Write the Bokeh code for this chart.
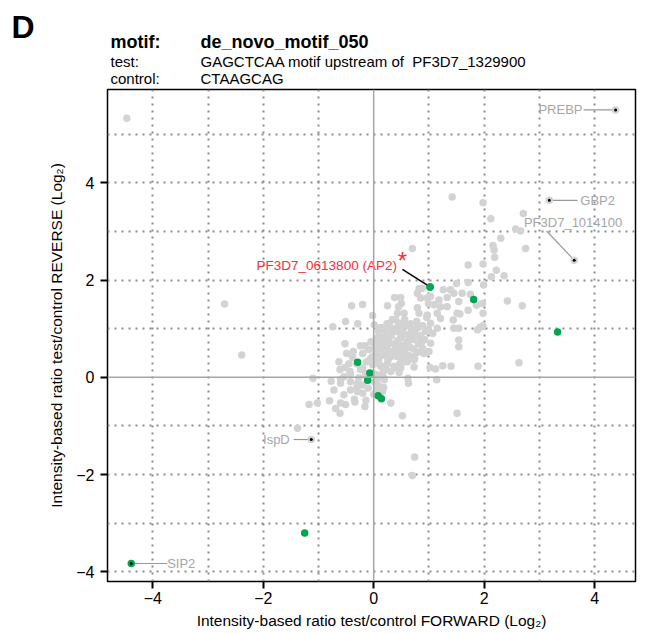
from bokeh.plotting import figure
from bokeh.layouts import column
from bokeh.models import Range1d, FixedTicker, Span, ColumnDataSource
from bokeh.core.properties import value
from bokeh.embed import file_html
from bokeh.resources import INLINE

FONT = "Liberation Sans"

# ---- header texts ----
panel_letter = "D"
head_keys = ["motif:", "test:", "control:"]
head_vals = ["de_novo_motif_050", "GAGCTCAA motif upstream of\u00a0 PF3D7_1329900", "CTAAGCAG"]

# ---- data (log2 ratios FORWARD, REVERSE) ----
grey_fwd_a = [-4.47, -2.70, -2.39, -1.10, -1.17, -1.02, -1.38, -0.40, -0.20, -0.74, -0.51, -0.29, -0.52, -0.37, -0.61, -0.77, -0.80, -0.69, -0.61, -0.72]
grey_rev_a = [5.33, 1.51, 0.46, -0.02, -0.56, -0.53, -1.05, 1.47, 1.50, 1.04, 1.15, 1.10, 0.69, 0.53, 0.16, -0.08, -0.48, -0.64, -0.74, -0.26]

grey_fwd_b = [-0.60, -0.51, -0.34, -0.16, -0.14, 0.31, 0.52, 1.51, 0.74, 0.70, 0.63, 0.62, 0.19, 0.18, 0.08, 0.04, 0.46, -0.20, -0.29, -0.42, -0.54, -0.42, -0.29, -0.20, -0.60, -0.54, 0.16]
grey_rev_b = [-0.53, -0.56, -0.51, -0.60, -0.47, -0.53, -0.79, -0.74, -1.64, -2.02, -0.12, -0.02, -0.02, -0.21, -0.16, 0.06, 0.10, -0.33, -0.29, -0.26, -0.36, -0.09, -0.12, -0.16, -0.12, 0.01, -0.29]

grey_fwd_c = [2.42, 2.69, 2.63, 1.89, 1.54, 1.54, 1.40, 1.25, 1.12, 1.02, 0.73, 1.88, 1.93, 1.45, 1.54, 1.44, 1.56, 1.71, 1.98, 1.97,
              1.86, 1.75, 1.99, 1.71, 1.50, 1.39, 1.26, 1.60, 1.54, 1.33, 1.18, 1.21, 1.09, 1.03, 0.88, 0.79, 0.85, 0.49, 0.38, 0.25,
              0.50, 0.55, 0.43, 0.40, 0.55, 0.79, 0.82, 0.97, 1.15, 1.21, 1.03, 0.94, 1.15, 0.85, 1.03, 1.00, 0.85, 0.73, 0.67, 0.55,
              0.37, 0.25, 0.19, -0.02, 0.01, 0.07, 0.19]
grey_rev_c = [1.57, 1.47, 0.30, 0.23, 0.77, 0.63, 0.23, 0.24, 0.17, 0.20, 0.21, 0.98, 1.03, 1.01, 1.01, 1.18, 1.30, 1.38, 1.32, 1.52,
              1.48, 1.71, 1.90, 1.95, 1.93, 1.80, 1.80, 1.73, 1.56, 1.64, 1.59, 1.45, 1.49, 1.66, 1.83, 1.73, 1.63, 1.64, 1.64, 1.47,
              1.52, 1.32, 1.32, 1.18, 1.15, 1.43, 1.32, 1.28, 1.32, 1.21, 1.11, 0.94, 1.01, 0.80, 0.70, 0.53, 0.53, 0.36, 0.43, 0.32,
              0.22, 0.29, 0.15, 0.08, -0.09, -0.23, -0.05]

grey_fwd_d = [1.42, 1.98, 2.12, 2.71, 2.57, 2.66, 2.30, 2.16, 2.18, 2.75, 2.19, 0.70, 1.71, 2.22, 2.36, 2.13, 1.98, 0.82, 1.45, 0.97]
grey_rev_d = [3.71, 3.59, 3.26, 3.37, 3.05, 3.01, 2.86, 2.71, 2.62, 2.65, 2.47, 2.65, 2.31, 2.20, 2.09, 2.07, 2.33, 1.82, 1.73, 1.63]

grey_fwd_e = [-0.24, -0.02, 0.45, 0.28, 0.11, 0.01, 0.99, 1.33, 1.51, 1.98, 0.91, 0.61, 0.49, 0.22, 0.11, 0.31, -0.05, -0.20, -0.43, -0.60, 0.07, 1.14]
grey_rev_e = [0.65, 1.27, 1.45, 1.10, 1.02, 1.08, 1.52, 1.45, 1.32, 1.06, 0.49, 0.32, 0.19, 0.22, 0.26, 0.43, 0.39, 0.19, 0.12, -0.05, -0.02, -0.05]

grey_fwd_f = [0.09, 0.20, 0.31, 0.42, 0.52, 0.63, 0.74, 0.85, 0.05, 0.16, 0.27, 0.38, 0.49, 0.60, 0.71, 0.81, 0.92, 0.02, 0.13, 0.24,
              0.34, 0.45, 0.56, 0.67, 0.78, 0.89, -0.02, 0.09, 0.20, 0.42, 0.52, 0.63, 0.74, -0.13, -0.02, 0.13, 0.38, -0.20, -0.09, -0.05,
              -0.16, 0.24, 0.34, 0.45, 0.56, 0.67, 0.78, 0.89, 0.99, 1.07, 0.96, -0.24, -0.31, -0.42, -0.27, -0.13, 0.16, 0.31, -0.52, -0.63,
              -0.38, -0.49]
grey_rev_f = [0.94, 0.98, 0.90, 0.94, 0.98, 0.88, 0.94, 0.86, 0.80, 0.73, 0.78, 0.69, 0.82, 0.73, 0.78, 0.69, 0.78, 0.61, 0.57, 0.63,
              0.53, 0.59, 0.53, 0.61, 0.51, 0.59, 0.43, 0.38, 0.45, 0.43, 0.36, 0.45, 0.38, 0.32, 0.26, 0.22, 0.20, 0.49, 0.57, 0.73,
              0.65, 1.10, 1.19, 1.10, 1.19, 1.10, 1.15, 1.06, 0.98, 0.90, 1.23, 0.16, 0.28, 0.08, -0.01, 0.08, 0.08, 0.12, 0.20, 0.32,
              0.41, 0.49]

grey_fwd_g = [0.15, 0.26, 0.36, 0.47, 0.58, 0.69, 0.80, 0.10, 0.21, 0.32, 0.43, 0.54, 0.65, 0.76, 0.87, 0.07, 0.18, 0.29, 0.40, 0.51,
              0.62, 0.73, 0.04, 0.15, 0.26, 0.37, 0.48, 0.59, -0.07, 0.04, 0.26, 0.47, -0.10, -0.30, -0.35, -0.45, -0.15, 0.00]
grey_rev_g = [1.02, 1.05, 1.00, 1.03, 1.05, 1.00, 1.02, 0.86, 0.84, 0.86, 0.75, 0.88, 0.83, 0.85, 0.72, 0.67, 0.66, 0.70, 0.64, 0.66,
              0.66, 0.58, 0.50, 0.49, 0.52, 0.47, 0.47, 0.41, 0.36, 0.33, 0.35, 0.28, -0.22, -0.20, -0.45, 0.28, 0.05, -0.35]

green_fwd = [1.81, 3.33, -0.29, -0.07, -0.11, 0.08, 0.14, -1.25, 1.02]
green_rev = [1.60, 0.93, 0.31, 0.09, -0.06, -0.38, -0.44, -3.20, 1.86]

gene_names = ["PREBP", "GBP2", "PF3D7_1014100", "IspD", "SIP2"]
gene_fwd = [4.38, 3.18, 3.63, -1.13, -4.39]
gene_rev = [5.50, 3.64, 2.41, -1.28, -3.83]
gene_halo = ["#d3d3d3", "#d3d3d3", "#d3d3d3", "#d3d3d3", "#00a651"]

ap2_name = "PF3D7_0613800 (AP2)"
ap2_fwd = 1.02
ap2_rev = 1.86

x_ticks = [-4, -2, 0, 2, 4]
y_ticks = [-4, -2, 0, 2, 4]
x_grid = [-4, -3, -2, -1, 1, 2, 3, 4]
y_grid = [-4, -3, -2, -1, 1, 2, 3, 4, 5]

# label layout (annotation placement)
lab_x = [3.78, 3.74, 3.61, -1.52, -3.74]
lab_y = [5.50, 3.64, 3.19, -1.28, -3.83]
lab_align = ["right", "left", "center", "right", "left"]
seg_x0 = [3.80, 3.69, 3.13, -1.45, -3.74]
seg_y0 = [5.50, 3.64, 3.01, -1.28, -3.83]

grey_fwd = grey_fwd_a + grey_fwd_b + grey_fwd_c + grey_fwd_d + grey_fwd_e + grey_fwd_f + grey_fwd_g
grey_rev = grey_rev_a + grey_rev_b + grey_rev_c + grey_rev_d + grey_rev_e + grey_rev_f + grey_rev_g

# ---------------- header panel ----------------
HEAD_H = 88
h = figure(width=647, height=HEAD_H, x_range=Range1d(0, 647), y_range=Range1d(HEAD_H, 0),
           output_backend="svg", toolbar_location=None,
           min_border=0, min_border_left=0, min_border_right=0, min_border_top=0, min_border_bottom=0)
h.frame_align = False
h.axis.visible = False
h.grid.visible = False
h.outline_line_color = None
h.background_fill_color = "white"
h.border_fill_color = "white"
h.text([11], [26], [panel_letter], text_font=value(FONT), text_font_size="32px",
       text_font_style="bold", text_baseline="middle", text_color="black")
row_y = [41, 61, 78]
h.text([110], [row_y[0]], [head_keys[0]], text_font=value(FONT), text_font_size="18px",
       text_font_style="bold", text_baseline="middle", text_color="black")
h.text([200], [row_y[0]], [head_vals[0]], text_font=value(FONT), text_font_size="18px",
       text_font_style="bold", text_baseline="middle", text_color="black")
h.text([110, 110], row_y[1:], head_keys[1:], text_font=value(FONT), text_font_size="15px",
       text_baseline="middle", text_color="black")
h.text([200, 200], row_y[1:], head_vals[1:], text_font=value(FONT), text_font_size="15px",
       text_baseline="middle", text_color="black")

# ---------------- scatter panel ----------------
XMIN, XMAX, YMIN, YMAX = -4.82, 4.74, -4.2, 5.92
p = figure(width=647, height=633 - HEAD_H, x_range=Range1d(XMIN, XMAX), y_range=Range1d(YMIN, YMAX),
           output_backend="svg", toolbar_location=None,
           min_border_left=107, min_border_right=12, min_border_top=1, min_border_bottom=52)
p.frame_align = False
p.background_fill_color = "white"
p.border_fill_color = "white"
p.outline_line_color = "black"
p.outline_line_width = 1.5

for ax, ticks in ((p.xaxis[0], x_ticks), (p.yaxis[0], y_ticks)):
    ax.ticker = FixedTicker(ticks=ticks)
    ax.major_label_overrides = {t: (("\u2212" + str(-t)) if t < 0 else str(t)) for t in ticks}
    ax.axis_line_color = None
    ax.major_tick_line_color = "black"
    ax.major_tick_line_width = 2
    ax.major_tick_out = 7
    ax.major_tick_in = 0
    ax.minor_tick_line_color = None
    ax.major_label_text_font = FONT
    ax.major_label_text_font_size = "16px"
    ax.major_label_text_color = "black"
    ax.axis_label_text_font = FONT
    ax.axis_label_text_font_size = "15.5px"
    ax.axis_label_text_font_style = "normal"
    ax.axis_label_text_color = "black"

p.xaxis.axis_label = "Intensity-based ratio test/control FORWARD (Log\u2082)"
p.yaxis.axis_label = "Intensity-based ratio test/control REVERSE (Log\u2082)"
p.xaxis.major_label_standoff = 3
p.yaxis.major_label_standoff = 6
p.xaxis.axis_label_standoff = 5
p.yaxis.axis_label_standoff = 8

p.xgrid.ticker = FixedTicker(ticks=x_grid)
p.ygrid.ticker = FixedTicker(ticks=y_grid)
for g in (p.xgrid[0], p.ygrid[0]):
    g.grid_line_color = "#8c8c8c"
    g.grid_line_width = 2
    g.grid_line_dash = "2 5"

p.add_layout(Span(location=0, dimension="height", line_color="#a6a6a6", line_width=1.5))
p.add_layout(Span(location=0, dimension="width", line_color="#a6a6a6", line_width=1.5))

# points
p.scatter(grey_fwd, grey_rev, size=7.5, color="#d3d3d3", line_color=None)
p.scatter(green_fwd, green_rev, size=7.5, color="#00a651", line_color=None)

# annotated genes
p.segment(seg_x0, seg_y0, gene_fwd, gene_rev, line_color="#999999", line_width=1.2)
p.scatter(gene_fwd, gene_rev, size=7.5, color=gene_halo, line_color=None)
p.scatter(gene_fwd, gene_rev, size=3, color="black", line_color=None)
src = ColumnDataSource(dict(x=lab_x, y=lab_y, t=gene_names, a=lab_align))
p.text(x="x", y="y", text="t", text_align="a", source=src, text_baseline="middle",
       text_font=value(FONT), text_font_size="13px", text_color="#a6a6a6")

# AP2 annotation
p.segment([0.52], [2.22], [ap2_fwd], [ap2_rev], line_color="black", line_width=1.5)
p.scatter([ap2_fwd], [ap2_rev], size=7.5, color="#00a651", line_color=None)
p.text([0.42], [2.31], [ap2_name], text_align="right", text_baseline="middle",
       text_font=value(FONT), text_font_size="13.5px", text_color="#f0303c")
p.text([0.52], [2.40], ["*"], text_align="center", text_baseline="middle",
       text_font=value(FONT), text_font_size="24px", text_color="#f0303c")

layout = column(h, p, spacing=0)
open("out.html", "w").write(file_html(layout, INLINE))
